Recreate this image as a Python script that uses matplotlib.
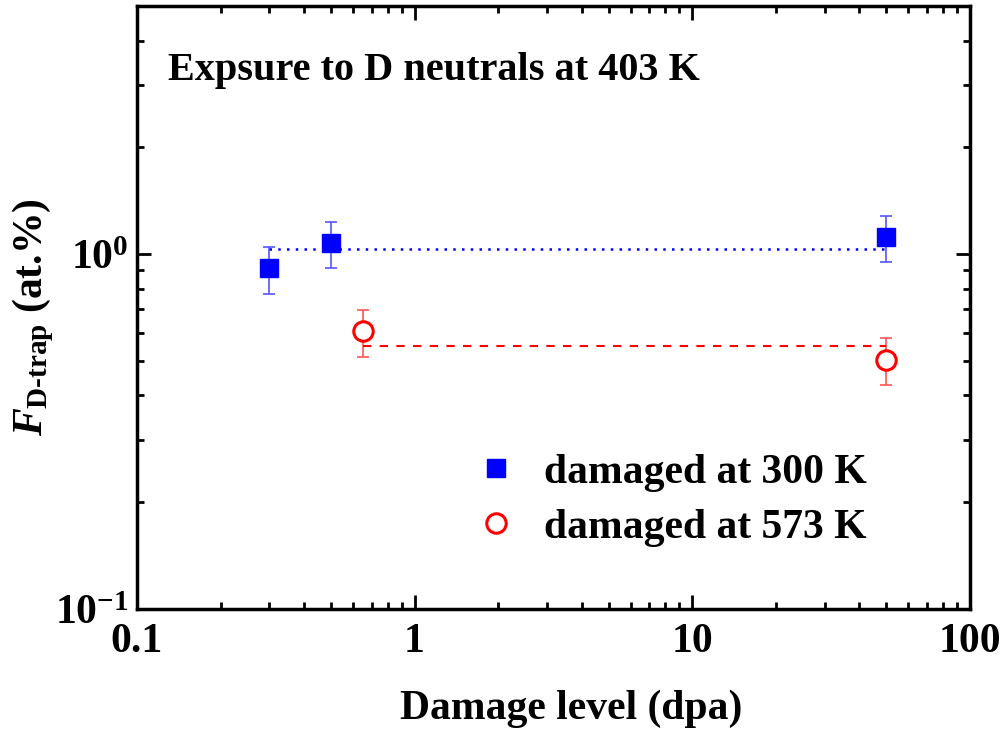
import numpy as np
import matplotlib
matplotlib.use("Agg")
import matplotlib.pyplot as plt
from matplotlib.ticker import FixedLocator, FixedFormatter, LogLocator, NullFormatter

# fonts: Times-like bold everywhere
plt.rcParams['font.family'] = 'Liberation Serif'
plt.rcParams['font.weight'] = 'bold'
plt.rcParams['axes.labelweight'] = 'bold'
plt.rcParams['mathtext.fontset'] = 'custom'
plt.rcParams['mathtext.rm'] = 'Liberation Serif:bold'
plt.rcParams['mathtext.it'] = 'Liberation Serif:italic:bold'
plt.rcParams['mathtext.bf'] = 'Liberation Serif:bold'
plt.rcParams['axes.unicode_minus'] = False

# data: damaged at 300 K
dpa_300 = [0.3, 0.5, 50]
f_300 = [0.913, 1.074, 1.117]
lo_300 = [0.772, 0.913, 0.95]
hi_300 = [1.046, 1.233, 1.282]
mean_300 = 1.033

# data: damaged at 573 K
dpa_573 = [0.65, 50]
f_573 = [0.608, 0.504]
lo_573 = [0.513, 0.428]
hi_573 = [0.697, 0.579]
mean_573 = 0.552

xticks = [0.1, 1, 10, 100]
xticklabels = ['0.1', '1', '10', '100']

fig = plt.figure(figsize=(10.07, 7.29), dpi=100)
ax = fig.add_axes([0.136, 0.1646, 0.827, 0.827])

err_300 = [np.array(f_300) - np.array(lo_300), np.array(hi_300) - np.array(f_300)]
err_573 = [np.array(f_573) - np.array(lo_573), np.array(hi_573) - np.array(f_573)]

ax.errorbar(dpa_300, f_300, yerr=err_300, fmt='none', ecolor='#5555ff',
            elinewidth=1.2, capsize=4, capthick=1.2)
ax.errorbar(dpa_573, f_573, yerr=err_573, fmt='none', ecolor='#ff5555',
            elinewidth=1.2, capsize=4, capthick=1.2)

ax.plot([dpa_300[0], dpa_300[-1]], [mean_300, mean_300], color='blue',
        linestyle=(0, (1, 2.5)), linewidth=1.8)
ax.plot([dpa_573[0], dpa_573[-1]], [mean_573, mean_573], color='red',
        linestyle=(0, (4, 4)), linewidth=1.5)

ax.plot(dpa_300, f_300, 's', color='blue', markersize=13, label='damaged at 300 K', zorder=5)
ax.plot(dpa_573, f_573, 'o', markerfacecolor='white', markeredgecolor='red',
        markeredgewidth=2.2, markersize=14, label='damaged at 573 K', zorder=5)

ax.set_xscale('log')
ax.set_yscale('log')
ax.set_xlim(0.1, 100)
ax.set_ylim(0.1, 5)

ax.xaxis.set_major_locator(FixedLocator(xticks))
ax.xaxis.set_major_formatter(FixedFormatter(xticklabels))
ax.xaxis.set_minor_locator(LogLocator(base=10, subs=np.arange(2, 10)))
ax.xaxis.set_minor_formatter(NullFormatter())
ax.yaxis.set_minor_locator(LogLocator(base=10, subs=np.arange(2, 10)))
ax.yaxis.set_minor_formatter(NullFormatter())

ax.tick_params(which='both', direction='in', top=True, right=True, width=2)
ax.tick_params(which='major', length=10, labelsize=30)
ax.tick_params(axis='x', which='major', pad=10)
ax.tick_params(axis='y', which='major', pad=6)
ax.tick_params(which='minor', length=5)
for s in ax.spines.values():
    s.set_linewidth(2.5)

ax.set_xlabel('Damage level (dpa)', fontsize=30)
ax.xaxis.set_label_coords(0.522, -0.133)
ax.set_ylabel(r'$F_{\mathrm{D\text{-}trap}}$ (at.%)', fontsize=30)
ax.yaxis.set_label_coords(-0.097, 0.485)

ax.text(0.037, 0.894, 'Expsure to D neutrals at 403 K', transform=ax.transAxes,
        fontsize=29, va='center', ha='left')

ax.legend(loc='upper left', bbox_to_anchor=(0.361, 0.32), frameon=False,
          fontsize=30, handletextpad=0.66, labelspacing=0.4, handlelength=1.0)

fig.savefig('out.png', dpi=100)
